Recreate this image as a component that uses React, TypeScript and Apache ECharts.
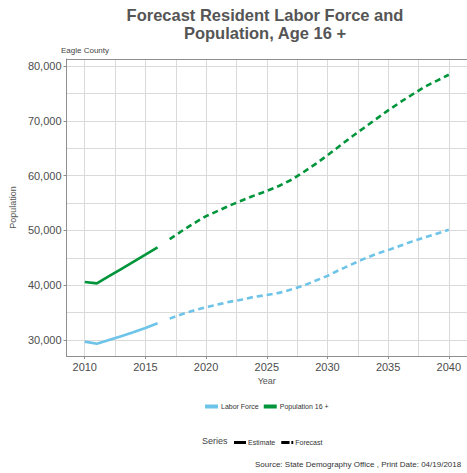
import React, { useEffect, useRef } from 'react';
import * as echarts from 'echarts';

const estimateYears = [2010, 2011, 2012, 2013, 2014, 2015, 2016];
const laborEstimate = [29700, 29300, 30000, 30700, 31400, 32200, 33050];
const popEstimate = [40580, 40330, 41640, 42950, 44260, 45570, 46900];

const forecastYears = [
  2017, 2018, 2019, 2020, 2021, 2022, 2023, 2024, 2025, 2026, 2027, 2028,
  2029, 2030, 2031, 2032, 2033, 2034, 2035, 2036, 2037, 2038, 2039, 2040,
];
const laborForecast = [
  33900, 34700, 35400, 36000, 36500, 37000, 37400, 37900, 38200, 38600, 39200, 39900,
  40800, 41700, 42800, 43800, 44800, 45700, 46400, 47200, 48000, 48700, 49400, 50100,
];
const popForecast = [
  48400, 49900, 51300, 52600, 53600, 54600, 55500, 56400, 57200, 58100, 59200, 60600,
  62100, 63700, 65400, 67100, 68700, 70300, 71900, 73400, 74800, 76200, 77300, 78400,
];

const xTicks = [2010, 2015, 2020, 2025, 2030, 2035, 2040];
const yTicks = [30000, 40000, 50000, 60000, 70000, 80000];

const seriesNames = ['Labor Force', 'Population 16 +'];
const typeNames = ['Estimate', 'Forecast'];

const BLUE = '#6EC4E8';
const GREEN = '#00953A';
const FONT = '"Liberation Sans", Arial, sans-serif';
const GRID = '#dadada';
const AXIS = '#8f8f8f';

const pairs = (xs: number[], ys: number[]) => xs.map((x, i) => [x, ys[i]]);

export default function App() {
  const ref = useRef<HTMLDivElement>(null);
  useEffect(() => {
    if (!ref.current) return;
    const chart = echarts.init(ref.current, undefined, { renderer: 'svg' });
    const lineBase = (name: string, color: string, data: number[][], dashed: boolean) => ({
      type: 'line',
      name,
      data,
      symbol: 'none',
      color,
      lineStyle: { color, width: 2.6, type: dashed ? [6, 4] : 'solid' },
      xAxisIndex: 0,
      yAxisIndex: 0,
    });
    chart.setOption({
      animation: false,
      textStyle: { fontFamily: FONT },
      grid: { left: 61, top: 59, width: 408, height: 297, containLabel: false },
      xAxis: [
        {
          type: 'value',
          min: 2008.5,
          max: 2041.5,
          minInterval: 5,
          maxInterval: 5,
          name: 'Year',
          nameLocation: 'middle',
          nameGap: 18,
          nameTextStyle: { fontSize: 9, color: '#555', fontFamily: FONT },
          axisLine: { show: true, lineStyle: { color: AXIS, width: 1 } },
          axisTick: { show: true, length: 3, customValues: xTicks, lineStyle: { color: AXIS } },
          axisLabel: {
            fontSize: 11,
            color: '#4d4d4d',
            margin: 5,
            showMinLabel: false,
            showMaxLabel: false,
            fontFamily: FONT,
            formatter: (v: number) => String(v),
          },
          splitLine: { show: true, lineStyle: { color: GRID, width: 1 } },
          minorTick: { show: false, splitNumber: 2 },
          minorSplitLine: { show: true, lineStyle: { color: GRID, width: 1 } },
        },
        {
          type: 'value',
          position: 'top',
          min: 2008.5,
          max: 2041.5,
          axisLine: { show: true, lineStyle: { color: AXIS, width: 1 } },
          axisTick: { show: false },
          axisLabel: { show: false },
          splitLine: { show: false },
        },
      ],
      yAxis: {
        type: 'value',
        min: 27080,
        max: 81280,
        minInterval: 10000,
        maxInterval: 10000,
        name: 'Population',
        nameLocation: 'middle',
        nameGap: 46,
        nameTextStyle: { fontSize: 9, color: '#555', fontFamily: FONT },
        axisLine: { show: true, lineStyle: { color: AXIS, width: 1 } },
        axisTick: { show: true, length: 3, customValues: yTicks, lineStyle: { color: AXIS } },
        axisLabel: {
          fontSize: 11,
          color: '#4d4d4d',
          margin: 5,
          showMinLabel: false,
          showMaxLabel: false,
          fontFamily: FONT,
          formatter: (v: number) => v.toLocaleString('en-US'),
        },
        splitLine: { show: true, lineStyle: { color: GRID, width: 1 } },
        minorTick: { show: false, splitNumber: 2 },
        minorSplitLine: { show: true, lineStyle: { color: GRID, width: 1 } },
      },
      legend: [
        {
          data: seriesNames.map((n) => ({ name: n, icon: 'rect' })),
          left: 200,
          top: 398,
          itemWidth: 13,
          itemHeight: 4,
          itemGap: 5,
          selectedMode: false,
          textStyle: { fontSize: 7, color: '#333', fontFamily: FONT, padding: [0, 0, 0, -2] },
        },
        {
          data: [
            { name: typeNames[0], icon: 'rect' },
            { name: typeNames[1], icon: 'path://M0,0h9v3h-9zM11,0h2v3h-2z' },
          ],
          left: 229,
          top: 434,
          itemWidth: 12,
          itemHeight: 3,
          itemGap: 6,
          selectedMode: false,
          textStyle: { fontSize: 7, color: '#333', fontFamily: FONT, padding: [0, 0, 0, -3] },
        },
      ],
      graphic: [
        {
          type: 'text',
          x: 265,
          y: 6,
          style: {
            text: 'Forecast Resident Labor Force and\nPopulation, Age 16 +',
            font: `bold 16.5px ${FONT}`,
            fill: '#555555',
            textAlign: 'center',
            textVerticalAlign: 'top',
            lineHeight: 18,
          },
        },
        {
          type: 'text',
          x: 61,
          y: 50,
          style: {
            text: 'Eagle County',
            font: `8px ${FONT}`,
            fill: '#444',
            textAlign: 'left',
            textVerticalAlign: 'middle',
          },
        },
        {
          type: 'text',
          x: 202,
          y: 441,
          style: {
            text: 'Series',
            font: `9px ${FONT}`,
            fill: '#444',
            textAlign: 'left',
            textVerticalAlign: 'middle',
          },
        },
        {
          type: 'text',
          x: 255,
          y: 464,
          style: {
            text: 'Source: State Demography Office , Print Date: 04/19/2018',
            font: `8px ${FONT}`,
            fill: '#333',
            textAlign: 'left',
            textVerticalAlign: 'middle',
          },
        },
      ],
      series: [
        lineBase(seriesNames[0], BLUE, pairs(estimateYears, laborEstimate), false),
        lineBase(seriesNames[0], BLUE, pairs(forecastYears, laborForecast), true),
        lineBase(seriesNames[1], GREEN, pairs(estimateYears, popEstimate), false),
        lineBase(seriesNames[1], GREEN, pairs(forecastYears, popForecast), true),
        {
          type: 'line',
          name: typeNames[0],
          data: [],
          symbol: 'none',
          color: '#000',
          itemStyle: { color: '#000' },
          lineStyle: { color: '#000', width: 3, type: 'solid' },
        },
        {
          type: 'line',
          name: typeNames[1],
          data: [],
          symbol: 'none',
          color: '#000',
          itemStyle: { color: '#000' },
          lineStyle: { color: '#000', width: 3, type: [9, 3] },
        },
      ],
    });
    return () => chart.dispose();
  }, []);
  return (
    <div
      ref={ref}
      style={{ position: 'absolute', left: 0, top: 0, width: 467, height: 473, background: '#fff' }}
    />
  );
}
